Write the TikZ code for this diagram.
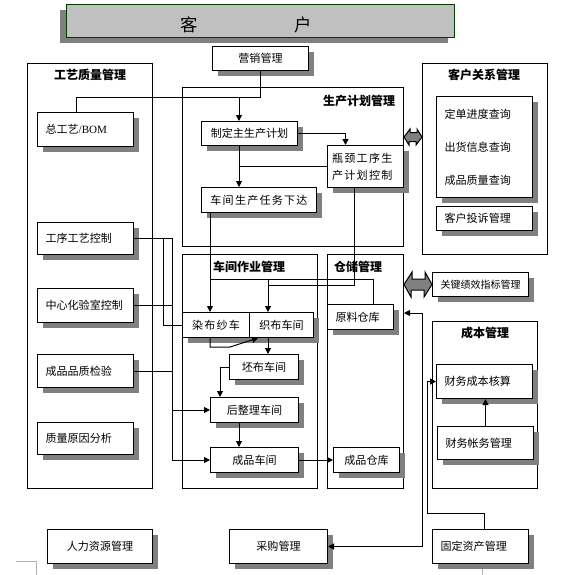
\documentclass[tikz,border=0pt]{standalone}
\usepackage{fontspec}
\setmainfont{Noto Sans CJK SC}
\newfontfamily\wide[LetterSpace=11]{Noto Sans CJK SC}
\newfontfamily\latin{Liberation Serif}
\usetikzlibrary{arrows.meta}
\definecolor{shgray}{RGB}{128,128,128}
\definecolor{bannergray}{RGB}{192,192,192}
\definecolor{bannerline}{RGB}{0,60,0}
\begin{document}
\begin{tikzpicture}[x=0.75pt, y=-0.75pt, line width=0.75pt, >={Triangle[length=4.5pt,width=4.5pt]},
    box/.style={draw, fill=white, inner sep=0pt, font=\fontsize{8.3}{12.4}\selectfont},
    grp/.style={draw, inner sep=0pt},
    ttl/.style={font=\bfseries\fontsize{9}{11}\selectfont, inner sep=0pt},
    sz/.style 2 args={anchor=north west, minimum width=#1*0.75pt, minimum height=#2*0.75pt},
    lft/.style={align=left, inner xsep=6pt, text width=#1*0.75pt-12pt}]
  \useasboundingbox (0,0) rectangle (569,575);
  \node[grp, sz={125}{425}] (qual) at (27,63) {};
  \node[grp, sz={221}{159}] (plan) at (182,87) {};
  \node[grp, sz={125}{191}] (crm) at (422,63) {};
  \node[grp, sz={135}{234}] (shop) at (182,254) {};
  \node[grp, sz={76}{234}] (store) at (327,254) {};
  \node[grp, sz={105}{167}] (cost) at (432,321) {};
  \fill[shgray] (60,10) rectangle ++(388,33);
  \foreach \x/\y/\w/\h in {212/46/96/24, 37/112/96/34, 37/222/96/32, 37/288/96/34, 37/354/96/33,
      37/422/96/32, 47/529/105/34, 201/121/96/24, 327/145/76/42, 201/187/115/25, 436/96/96/101,
      436/206/96/24, 432/272/96/24, 182/312/131/25, 229/354/69/25, 210/397/88/25, 210/447/88/25,
      327/304/66/25, 333/447/66/25, 436/364/96/34, 437/426/96/33, 229/529/98/34, 432/529/96/34}
    \fill[shgray] (\x+6,\y+6) rectangle ++(\w,\h);
  \node[draw=bannerline, line width=1.1pt, fill=bannergray, sz={388}{33}] (cust) at (66,4) {};
  \node[font=\fontsize{13}{15}\selectfont] (custtxt) at (246,25) {客\hspace{72pt}户};
  \node[ttl] (qualttl) at (90,75) {工艺质量管理};
  \node[ttl] (planttl) at (359,101) {生产计划管理};
  \node[ttl] (crmttl) at (484,75) {客户关系管理};
  \node[ttl] (shopttl) at (249,267) {车间作业管理};
  \node[ttl] (storettl) at (358,267) {仓储管理};
  \node[ttl] (costttl) at (485,333) {成本管理};
  \node[box, sz={96}{24}] (mkt) at (212,46) {营销管理};
  \node[box, sz={96}{34}, lft=96] (bom) at (37,112) {总工艺{\latin /BOM}};
  \node[box, sz={96}{32}, lft=96] (procctl) at (37,222) {工序工艺控制};
  \node[box, sz={96}{34}, lft=96] (lab) at (37,288) {中心化验室控制};
  \node[box, sz={96}{33}, lft=96] (qc) at (37,354) {成品品质检验};
  \node[box, sz={96}{32}, lft=96] (cause) at (37,422) {质量原因分析};
  \node[box, sz={105}{34}] (hr) at (47,529) {人力资源管理};
  \node[box, sz={96}{24}] (mps) at (201,121) {制定主生产计划};
  \node[box, sz={76}{42}, align=left, text width=50pt, font=\wide\fontsize{8.3}{12.8}\selectfont] (neck) at (327,145) {瓶颈工序生\\产计划控制};
  \node[box, sz={115}{25}, font=\wide\fontsize{8.3}{10}\selectfont] (task) at (201,187) {车间生产任务下达};
  \node[box, sz={96}{101}, lft=96] (query) at (436,96) {定单进度查询\\[12.4pt]出货信息查询\\[12.4pt]成品质量查询};
  \node[box, sz={96}{24}, lft=96] (complain) at (436,206) {客户投诉管理};
  \node[box, sz={96}{24}, lft=96, font=\fontsize{7.5}{9}\selectfont] (kpi) at (432,272) {关键绩效指标管理};
  \node[box, sz={67}{25}, font=\wide\fontsize{8.3}{10}\selectfont] (dye) at (182,312) {染布纱车};
  \node[box, sz={64}{25}] (weave) at (249,312) {织布车间};
  \node[box, sz={69}{25}] (grey) at (229,354) {坯布车间};
  \node[box, sz={88}{25}] (finish) at (210,397) {后整理车间};
  \node[box, sz={88}{25}] (prod) at (210,447) {成品车间};
  \node[box, sz={66}{25}, lft=66] (raw) at (327,304) {原料仓库};
  \node[box, sz={66}{25}] (fgs) at (333,447) {成品仓库};
  \node[box, sz={96}{34}, lft=96] (calc) at (436,364) {财务成本核算};
  \node[box, sz={96}{33}, lft=96] (acct) at (437,426) {财务帐务管理};
  \node[box, sz={98}{34}] (buy) at (229,529) {采购管理};
  \node[box, sz={96}{34}, lft=96] (asset) at (432,529) {固定资产管理};
  \coordinate (mktjoin) at (76,97);
  \coordinate (mpsin) at (239,97);
  \draw (mkt.south) |- (mktjoin) -- (mktjoin |- bom.north);
  \draw[->] (mpsin) -- (mpsin |- mps.north);
  \draw[->] (mps.east) -| ([xshift=-15pt]neck.north);
  \draw[->] (mpsin |- mps.south) -- (mpsin |- task.north);
  \draw (neck.west) -- (neck.west -| mpsin);
  \coordinate (taskout) at (210,279);
  \coordinate (rawin) at (373,279);
  \coordinate (weavein) at (268,279);
  \coordinate (neckout) at (354,285);
  \draw[->] (taskout |- task.south) -- (taskout |- dye.north);
  \draw (taskout) -- (rawin) -- (rawin |- raw.north);
  \draw[->] (weavein) -- (weavein |- weave.north);
  \draw (neckout |- neck.south) -- (neckout) -- (neckout -| weavein);
  \draw[->] (taskout |- dye.south) -- ++(0,9) -- ++(20,0) -- ([xshift=6.75pt]weave.south west);
  \draw[->] (weavein |- weave.south) -- (weavein |- grey.north);
  \draw[->] (grey.west) -| ([xshift=7.5pt]finish.north west);
  \draw[->] (mpsin |- finish.south) -- (mpsin |- prod.north);
  \draw[->] (prod.east) -- (fgs.west);
  \coordinate (trunk) at (172,238);
  \coordinate (dyefeed) at (163,238);
  \draw (procctl.east) -- (procctl.east -| trunk) -- (trunk |- prod.west);
  \draw (dyefeed |- procctl.east) |- (dye.west);
  \draw (lab.east) -- (lab.east -| trunk);
  \draw (qc.east) -- (qc.east -| trunk);
  \draw[->] (trunk |- finish.west) -- (finish.west);
  \draw[->] (trunk |- prod.west) -- (prod.west);
  \coordinate (buyline) at (422,313);
  \draw[<->] (store.east |- buyline) -- (buyline) |- (buy.east);
  \coordinate (assetline) at (427,513);
  \draw[->] ([xshift=3pt]asset.north) |- (assetline) |- (calc.west);
  \draw[->] (acct.north) -- (acct.north |- calc.south);
  \coordinate (crmlink) at (422,137);
  \filldraw[fill=shgray] (plan.east |- crmlink) -- ++(6,-8) -- ++(0,3.5) -- ++(7,0) -- ++(0,-3.5) -- (crmlink)
    -- ++(-6,8) -- ++(0,-3.5) -- ++(-7,0) -- ++(0,3.5) -- cycle;
  \filldraw[fill=shgray] (store.east |- kpi.west) -- ++(8,-12.5) -- ++(0,7) -- ++(13,0) -- ++(0,-7) -- (kpi.west)
    -- ++(-8,12.5) -- ++(0,-7) -- ++(-13,0) -- ++(0,7) -- cycle;
  \draw[gray!60, line width=0.5pt] (16,561) -| (36,575);
  \draw[gray!60, line width=0.5pt] (482,569) -- (482,575);
\end{tikzpicture}
\end{document}
